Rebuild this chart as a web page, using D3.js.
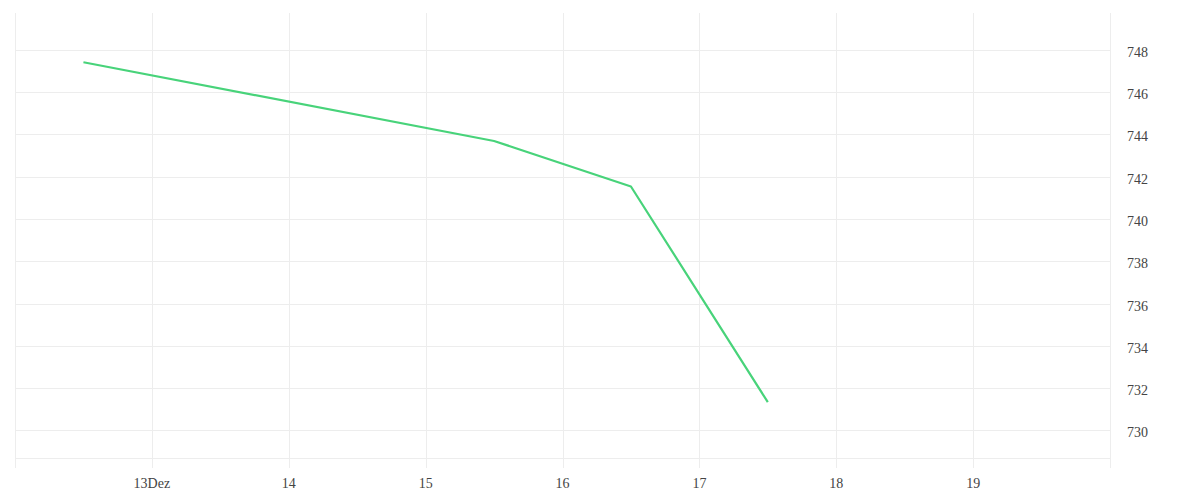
<!DOCTYPE html>
<meta charset="utf-8">
<html>
  <head>
    <style>
      body { margin: 0; background: #fff; }
      .grid line { stroke: #ededed; stroke-width: 1px; shape-rendering: crispEdges; }
      text.lbl {
        font-family: "Liberation Serif", serif;
        font-size: 14px;
        fill: #444;
      }
    </style>
    <script type="text/javascript" src="https://cdn.jsdelivr.net/npm/d3@7"></script>
  </head>
  <body>
    <div id="chart"></div>
    <script type="text/javascript">
      // data
      var dates  = ["2016-12-12T12:00", "2016-12-15T12:00", "2016-12-16T12:00", "2016-12-17T12:00"];
      var values = [747.4, 743.68, 741.53, 731.34];
      var xTickDays   = ["2016-12-13", "2016-12-14", "2016-12-15", "2016-12-16", "2016-12-17", "2016-12-18", "2016-12-19"];
      var xTickLabels = ["13Dez", "14", "15", "16", "17", "18", "19"];
      var yTicks = [730, 732, 734, 736, 738, 740, 742, 744, 746, 748];

      // layout (window.top is read-only, so no bare "top" here)
      var W = 1200, H = 500;
      var pLeft = 15, pRight = 1110, pTop = 12.5, pBottom = 458, tickExt = 10;

      var parse = d3.isoParse;
      var x = d3.scaleTime()
          .domain([parse("2016-12-12"), parse("2016-12-20")])
          .range([pLeft, pRight]);
      var y = d3.scaleLinear()
          .domain([728.7, 749.75])
          .range([pBottom, pTop]);

      var svg = d3.select("#chart").append("svg")
          .attr("width", W)
          .attr("height", H);

      // horizontal grid lines
      svg.append("g").attr("class", "grid")
          .selectAll("line")
          .data(yTicks.concat([y.domain()[0]]))
          .enter().append("line")
            .attr("x1", pLeft).attr("x2", pRight)
            .attr("y1", function(d) { return Math.round(y(d)) + 0.5; })
            .attr("y2", function(d) { return Math.round(y(d)) + 0.5; });

      // vertical grid lines (every day, incl. the edges)
      var days = d3.timeDay.range(x.domain()[0], d3.timeDay.offset(x.domain()[1], 1));
      svg.append("g").attr("class", "grid")
          .selectAll("line")
          .data(days)
          .enter().append("line")
            .attr("x1", function(d) { return Math.round(x(d)) + 0.5; })
            .attr("x2", function(d) { return Math.round(x(d)) + 0.5; })
            .attr("y1", pTop).attr("y2", pBottom + tickExt);

      // x labels
      svg.selectAll(".xlbl")
          .data(xTickDays)
          .enter().append("text")
            .attr("class", "lbl")
            .attr("x", function(d) { return x(parse(d)); })
            .attr("y", pBottom + 30)
            .style("text-anchor", "middle")
            .text(function(d, i) { return xTickLabels[i]; });

      // y labels on the right, sitting a touch below their grid line
      svg.selectAll(".ylbl")
          .data(yTicks)
          .enter().append("text")
            .attr("class", "lbl")
            .attr("x", pRight + 17)
            .attr("y", function(d) { return y(d); })
            .attr("dy", "0.5em")
            .text(function(d) { return d; });

      // the line
      var pts = dates.map(function(d, i) { return { t: parse(d), v: values[i] }; });
      var line = d3.line()
          .x(function(d) { return x(d.t); })
          .y(function(d) { return y(d.v); });

      svg.append("path")
          .datum(pts)
          .attr("d", line)
          .attr("fill", "none")
          .attr("stroke", "#48d37a")
          .attr("stroke-width", 2.2)
          .attr("stroke-linejoin", "round");
    </script>
  </body>
</html>
